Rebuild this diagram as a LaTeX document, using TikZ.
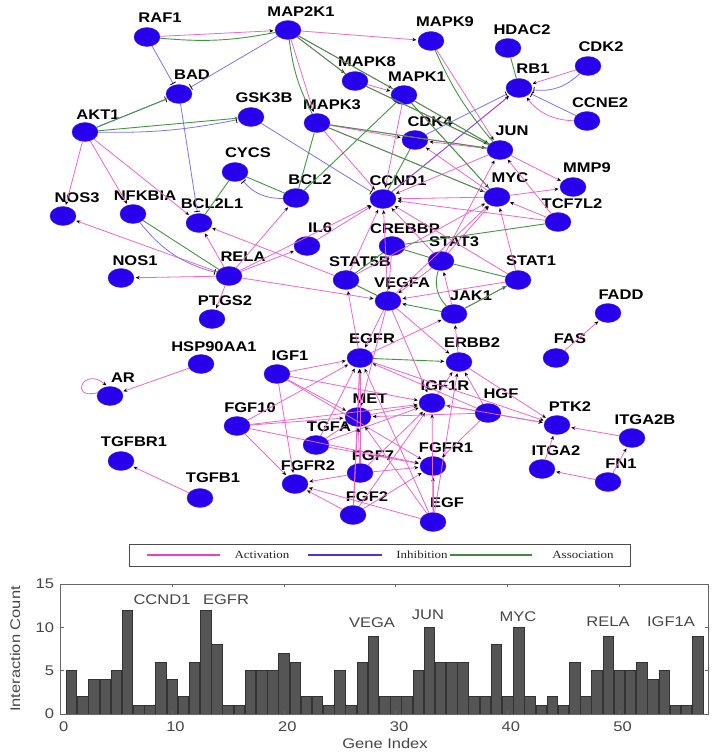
\documentclass[tikz,border=0pt]{standalone}
\usepackage{fontspec}
\usetikzlibrary{arrows.meta,shapes.geometric}
\newfontfamily\labfont[FakeStretch=1.18]{Liberation Sans}
\newfontfamily\legfont[FakeStretch=1.18]{Liberation Serif}
\definecolor{nodeblue}{RGB}{40,0,235}
\definecolor{actc}{RGB}{240,100,205}
\definecolor{inhc}{RGB}{125,115,235}
\definecolor{ascc}{RGB}{65,150,65}
\definecolor{purpc}{RGB}{150,70,230}
\definecolor{barc}{RGB}{85,85,85}
\definecolor{txtc}{RGB}{70,70,70}
\newcommand\gn[6]{\node[gene] (#1) at (#2,#3) {}; \node[glabel] at (#4,#5) {#6};}
\tikzset{
 gene/.style={ellipse, fill=nodeblue, draw=nodeblue!85!white, line width=0.4pt, minimum width=26pt, minimum height=19pt, inner sep=0pt},
 glabel/.style={font=\labfont\bfseries\fontsize{14}{14}\selectfont, inner sep=0pt},
 act/.style={draw=actc, line width=0.8pt, -{Stealth[black,length=4pt,width=3.5pt]}, shorten >=1.5pt},
 inh/.style={draw=inhc, line width=0.8pt, -{Bar[black,width=6pt,line width=0.8pt]}, shorten >=1.5pt},
 asc/.style={draw=ascc, line width=0.9pt},
 ascarr/.style={draw=ascc, line width=0.9pt, -{Stealth[black,length=4pt,width=3.5pt]}, shorten >=1.5pt},
 purpedge/.style={draw=purpc, line width=1pt, -{Stealth[black,length=4pt,width=3.5pt]}, shorten >=1.5pt},
 barst/.style={fill=barc, draw=black!80, line width=0.5pt},
 ticklab/.style={font=\labfont\fontsize{14}{14}\selectfont, text=txtc, inner sep=0pt},
 peaklab/.style={font=\labfont\fontsize{14}{14}\selectfont, text=txtc, inner sep=0pt},
 legtxt/.style={font=\legfont\fontsize{11}{11}\selectfont, text=black!85, inner sep=0pt}
}
\begin{document}
\begin{tikzpicture}[x=1pt,y=-1pt]
\useasboundingbox (0,0) rectangle (717,755);
% nodes
\gn{RAF1}{147}{37}{160}{18}{RAF1}
\gn{MAP2K1}{288}{30}{301}{12}{MAP2K1}
\gn{MAPK9}{431}{41}{445}{22}{MAPK9}
\gn{HDAC2}{508}{48}{522}{30}{HDAC2}
\gn{CDK2}{588}{66}{601}{47}{CDK2}
\gn{RB1}{519}{88}{533}{69}{RB1}
\gn{CCNE2}{587}{121}{600}{103}{CCNE2}
\gn{MAPK8}{355}{81}{367}{62}{MAPK8}
\gn{MAPK1}{404}{95}{417}{77}{MAPK1}
\gn{BAD}{179}{94}{192}{75}{BAD}
\gn{GSK3B}{251}{117}{264}{98}{GSK3B}
\gn{AKT1}{85}{132}{98}{115}{AKT1}
\gn{MAPK3}{317}{123}{332}{105}{MAPK3}
\gn{CDK4}{415}{140}{430}{122}{CDK4}
\gn{JUN}{500}{150}{512}{131}{JUN}
\gn{CYCS}{235}{172}{248}{153}{CYCS}
\gn{BCL2}{296}{198}{310}{180}{BCL2}
\gn{CCND1}{383}{199}{398}{181}{CCND1}
\gn{MYC}{497}{197}{510}{178}{MYC}
\gn{MMP9}{573}{187}{587}{168}{MMP9}
\gn{TCF7L2}{558}{222}{572}{204}{TCF7L2}
\gn{NOS3}{63}{216}{77}{198}{NOS3}
\gn{NFKBIA}{133}{214}{145}{196}{NFKBIA}
\gn{BCL2L1}{199}{223}{212}{204}{BCL2L1}
\gn{IL6}{307}{246}{320}{228}{IL6}
\gn{CREBBP}{392}{246}{405}{229}{CREBBP}
\gn{STAT3}{441}{261}{454}{242}{STAT3}
\gn{STAT5B}{346}{280}{360}{262}{STAT5B}
\gn{STAT1}{518}{280}{531}{261}{STAT1}
\gn{RELA}{229}{276}{243}{257}{RELA}
\gn{NOS1}{121}{278}{135}{261}{NOS1}
\gn{VEGFA}{388}{301}{402}{283}{VEGFA}
\gn{JAK1}{454}{314}{471}{296}{JAK1}
\gn{PTGS2}{212}{319}{225}{301}{PTGS2}
\gn{FADD}{608}{313}{621}{295}{FADD}
\gn{FAS}{556}{358}{570}{339}{FAS}
\gn{HSP90AA1}{201}{364}{214}{347}{HSP90AA1}
\gn{EGFR}{360}{358}{372}{339}{EGFR}
\gn{ERBB2}{459}{362}{472}{343}{ERBB2}
\gn{IGF1}{277}{374}{290}{356}{IGF1}
\gn{AR}{110}{396}{123}{378}{AR}
\gn{IGF1R}{432}{403}{445}{386}{IGF1R}
\gn{HGF}{488}{413}{501}{394}{HGF}
\gn{MET}{358}{417}{370}{399}{MET}
\gn{FGF10}{237}{426}{250}{408}{FGF10}
\gn{TGFA}{316}{445}{329}{427}{TGFA}
\gn{PTK2}{557}{425}{570}{407}{PTK2}
\gn{ITGA2B}{632}{438}{645}{420}{ITGA2B}
\gn{FGFR1}{433}{466}{446}{448}{FGFR1}
\gn{FGF7}{360}{473}{373}{456}{FGF7}
\gn{ITGA2}{542}{469}{556}{451}{ITGA2}
\gn{TGFBR1}{121}{461}{134}{442}{TGFBR1}
\gn{FGFR2}{295}{484}{308}{466}{FGFR2}
\gn{FN1}{608}{482}{621}{464}{FN1}
\gn{TGFB1}{200}{498}{213}{478}{TGFB1}
\gn{FGF2}{353}{515}{367}{497}{FGF2}
\gn{EGF}{433}{522}{447}{503}{EGF}
% activation edges
\foreach \a/\b in {RAF1/MAP2K1, AKT1/NOS3, AKT1/NFKBIA, AKT1/BCL2L1,
 MAP2K1/MAPK9, MAP2K1/MAPK8, MAP2K1/MAPK3, MAP2K1/MAPK1, MAPK9/JUN, CDK2/RB1,
 MAPK8/MAPK1, MAPK8/JUN, MAPK1/JUN, MAPK1/MYC, MAPK1/CCND1, MAPK3/CDK4, MAPK3/JUN, MAPK3/MYC, MAPK3/CCND1,
 JUN/CDK4, MYC/CDK4, JUN/MMP9, JUN/CCND1, TCF7L2/JUN, MYC/MMP9, TCF7L2/MYC, TCF7L2/CCND1, MYC/CCND1,
 STAT3/CCND1, STAT3/MYC, STAT3/JUN, STAT5B/CCND1, STAT5B/MYC, STAT1/MYC, STAT1/CCND1,
 JAK1/STAT3, JAK1/STAT1, STAT1/VEGFA, STAT3/VEGFA, CREBBP/VEGFA, RELA/VEGFA, RELA/BCL2, RELA/BCL2L1, RELA/NOS3,
 RELA/NOS1, RELA/PTGS2, RELA/IL6, RELA/CCND1, IL6/CCND1, STAT5B/BCL2L1, EGFR/STAT5B, EGFR/JAK1, ERBB2/JAK1,
 VEGFA/EGFR, VEGFA/ERBB2, VEGFA/IGF1R, VEGFA/MET, VEGFA/MYC, VEGFA/CCND1,
 IGF1/EGFR, IGF1/IGF1R, IGF1/MET, IGF1/FGFR2, IGF1/FGFR1, FGF10/EGFR, FGF10/MET, FGF10/IGF1R, FGF10/FGFR2, FGF10/FGFR1,
 TGFA/EGFR, TGFA/MET, TGFA/IGF1R, TGFA/FGFR1, FGF7/FGFR2, FGF7/FGFR1, FGF7/MET, FGF7/EGFR, FGF7/IGF1R,
 FGF2/FGFR2, FGF2/FGFR1, FGF2/MET, FGF2/IGF1R, FGF2/EGFR, EGF/EGFR, EGF/FGFR1, EGF/MET, EGF/FGFR2, EGF/ERBB2, EGF/IGF1R,
 HGF/MET, HGF/EGFR, HGF/IGF1R, HGF/ERBB2, HGF/FGFR1, HGF/PTK2, MET/EGFR, MET/IGF1R, EGFR/PTK2, ERBB2/PTK2, IGF1R/PTK2,
 IGF1R/ERBB2, ITGA2B/PTK2, ITGA2/PTK2, FN1/ITGA2, FN1/ITGA2B, FAS/FADD, HSP90AA1/AR, TGFB1/TGFBR1}
 \draw[act] (\a) -- (\b);
\draw[act] (CCNE2) to[bend left=25] (RB1);
\draw[act] (AR.165) .. controls (68,400) and (84,366) .. (AR.105);
% inhibition edges
\foreach \a/\b in {RAF1/BAD, MAP2K1/BAD, AKT1/BAD, BAD/BCL2L1, GSK3B/CCND1, CCNE2/RB1, CDK4/RB1}
 \draw[inh] (\a) -- (\b);
\draw[inh] (AKT1) to[bend right=6] (GSK3B);
\draw[inh] (BCL2) to[bend left=25] (CYCS);
\draw[inh] (CDK2) to[bend left=25] (RB1);
\draw[inh] (NFKBIA) to[bend right=18] (RELA);
\draw[purpedge] (CCND1) -- (RB1);
% association edges
\foreach \a/\b in {AKT1/BAD, AKT1/GSK3B, CYCS/BCL2L1, BCL2/CYCS, MAP2K1/MAPK8, MAP2K1/MAPK1, HDAC2/RB1,
 MAPK8/JUN, MAPK1/JUN, MAPK1/MYC, MAPK1/BCL2, MAPK3/JUN, MAPK3/MYC, MAPK3/BCL2, CDK4/CCND1,
 TCF7L2/CREBBP, JAK1/STAT1, STAT3/STAT1, STAT3/CREBBP, STAT5B/CREBBP, STAT5B/VEGFA, NFKBIA/RELA}
 \draw[asc] (\a) -- (\b);
\draw[asc] (RAF1) to[bend right=8] (MAP2K1);
\draw[asc] (MAP2K1) to[bend right=10] (MAPK3);
\draw[asc] (MAPK9) to[bend right=8] (JUN);
\draw[asc] (JAK1) to[bend left=30] (STAT3);
\draw[ascarr] (JAK1) -- (VEGFA);
\draw[ascarr] (EGFR) -- (ERBB2);
% legend
\draw[black!70, line width=0.8pt] (129,544) rectangle (630,566);
\draw[draw={rgb,255:red,240;green,60;blue,200}, line width=1.6pt] (147,555) -- (220,555);
\draw[draw={rgb,255:red,70;green,55;blue,220}, line width=1.6pt] (308,555) -- (382,555);
\draw[draw={rgb,255:red,60;green,140;blue,60}, line width=1.6pt] (450,555) -- (532,555);
\node[legtxt] at (262,555) {Activation};
\node[legtxt] at (422,555) {Inhibition};
\node[legtxt] at (583,555) {Association};
% bar chart
\begin{scope}[shift={(60.3,714)},x=11.18pt,y=8.67pt]
\foreach \i/\v in {1/5,2/2,3/4,4/4,5/5,6/12,7/1,8/1,9/6,10/4,11/2,12/6,13/12,14/8,15/1,16/1,17/5,18/5,19/5,20/7,
 21/6,22/2,23/2,24/1,25/5,26/1,27/6,28/9,29/2,30/2,31/2,32/5,33/10,34/6,35/6,36/6,37/2,38/2,39/8,40/2,
 41/10,42/2,43/1,44/2,45/1,46/6,47/2,48/5,49/9,50/5,51/5,52/6,53/4,54/5,55/1,56/1,57/9}
 \draw[barst] (\i-0.47,0) rectangle (\i+0.47,\v);
\draw[black!60, line width=0.6pt] (0,0) rectangle (58,15);
\foreach \t in {0,10,...,50}{
 \draw[black!60, line width=0.6pt] (\t,0) -- (\t,0.35);
 \draw[black!60, line width=0.6pt] (\t,15) -- (\t,14.65);
 \node[ticklab] at (\t+0.3,-1.5) {\t};}
\foreach \t in {0,5,10,15}{
 \draw[black!60, line width=0.6pt] (0,\t) -- (0.35,\t);
 \draw[black!60, line width=0.6pt] (58,\t) -- (57.65,\t);
 \node[ticklab,anchor=east] at (-0.55,\t) {\t};}
\end{scope}
\node[peaklab] at (162,600) {CCND1};
\node[peaklab] at (226,600) {EGFR};
\node[peaklab] at (372,623) {VEGA};
\node[peaklab] at (428,615) {JUN};
\node[peaklab] at (518,617) {MYC};
\node[peaklab] at (608,622) {RELA};
\node[peaklab] at (671,622) {IGF1A};
\node[ticklab] at (385,743) {Gene Index};
\node[ticklab, rotate=90] at (15,649) {Interaction Count};
\end{tikzpicture}
\end{document}
